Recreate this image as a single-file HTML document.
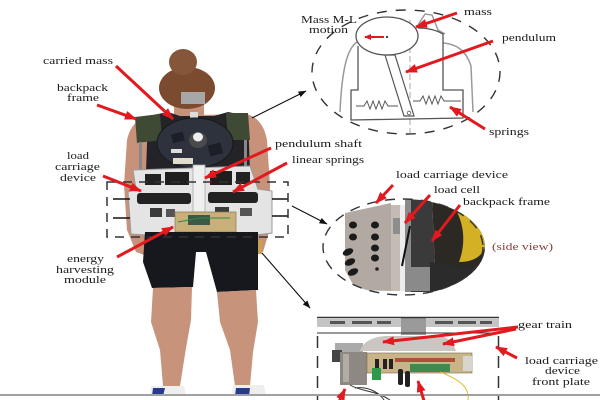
<!DOCTYPE html>
<html><head><meta charset="utf-8"><style>
html,body{margin:0;padding:0;background:#fff;}
svg{display:block;}
text{font-family:"Liberation Serif",serif;font-size:11px;fill:#1a1a1a;}
</style></head><body>
<svg width="600" height="400" viewBox="0 0 600 400" xmlns="http://www.w3.org/2000/svg">
<defs>
<marker id="rh" markerUnits="userSpaceOnUse" markerWidth="13" markerHeight="10" refX="11" refY="4.5" orient="auto"><path d="M0,0 L12,4.5 L0,9 z" fill="#e2191e"/></marker>
<marker id="bh" markerUnits="userSpaceOnUse" markerWidth="9" markerHeight="7" refX="7.5" refY="3" orient="auto"><path d="M0,0 L8,3 L0,6 z" fill="#111"/></marker>
<clipPath id="c2"><ellipse cx="403" cy="247" rx="82" ry="48"/></clipPath>
<clipPath id="c3"><rect x="317" y="317" width="182" height="83"/></clipPath>
</defs>

<!-- ===== PERSON ===== -->
<path d="M150,116 C138,118 130,126 127,140 L124,185 L127,230 L136,252 L147,256 L150,240 L252,240 L256,254 L263,252 L269,232 L270,185 L267,140 C264,124 256,116 246,114 Z" fill="#c8917a"/>
<rect x="174" y="96" width="30" height="22" fill="#c8917a"/>
<ellipse cx="187" cy="88" rx="28" ry="21" fill="#7b4b2f"/>
<ellipse cx="183" cy="62" rx="14" ry="13" fill="#85563a"/>
<rect x="181" y="92" width="24" height="12" fill="#a7a7a7"/>
<path d="M148,116 L168,112 L180,116 L214,116 L228,112 L248,116 L250,172 L146,172 Z" fill="#242428"/>
<rect x="190" y="112" width="8" height="6" fill="#ddd"/>
<path d="M135,117 L160,114 L162,140 L137,143 Z" fill="#3f4a35"/>
<path d="M226,113 L248,113 L250,140 L228,140 Z" fill="#3f4a35"/>
<rect x="139" y="142" width="3" height="28" fill="#888"/>
<rect x="244" y="140" width="3" height="28" fill="#888"/>
<ellipse cx="195" cy="143" rx="38" ry="25" fill="#2d323d" stroke="#16181c" stroke-width="1"/>
<ellipse cx="198" cy="140" rx="9" ry="8" fill="#4a4a4a"/>
<ellipse cx="198" cy="137" rx="5" ry="4.5" fill="#eee"/>
<rect x="172" y="133" width="12" height="9" fill="#1c1f26" transform="rotate(-15 178 138)"/>
<rect x="209" y="144" width="13" height="11" fill="#1c1f26" transform="rotate(-15 215 150)"/>
<rect x="171" y="149" width="11" height="4" fill="#ddd"/>
<rect x="173" y="158" width="20" height="6" fill="#e2dccd"/>
<path d="M133,170 L250,166 L258,189 L272,191 L272,233 L240,237 L175,237 L131,234 L128,192 L136,189 Z" fill="#e4e4e4" stroke="#9a9a9a" stroke-width="1"/>
<rect x="145" y="174" width="16" height="11" fill="#222"/>
<rect x="165" y="172" width="24" height="13" fill="#1e1e1e"/>
<rect x="210" y="171" width="22" height="14" fill="#1e1e1e"/>
<rect x="236" y="172" width="14" height="12" fill="#222"/>
<rect x="137" y="193" width="54" height="11" rx="3" fill="#222"/>
<rect x="208" y="192" width="50" height="11" rx="3" fill="#222"/>
<rect x="150" y="208" width="12" height="9" fill="#3a3a3a"/>
<rect x="166" y="209" width="9" height="8" fill="#555"/>
<rect x="215" y="207" width="14" height="9" fill="#3a3a3a"/>
<rect x="240" y="208" width="12" height="8" fill="#555"/>
<rect x="193" y="165" width="12" height="47" fill="#f0f0f0" stroke="#aaa" stroke-width="0.8"/>
<line x1="113" y1="199" x2="130" y2="199" stroke="#111" stroke-width="1.5"/>
<line x1="113" y1="218" x2="130" y2="218" stroke="#111" stroke-width="1.5"/>
<line x1="272" y1="199" x2="288" y2="199" stroke="#111" stroke-width="1.5"/>
<line x1="272" y1="216" x2="288" y2="216" stroke="#111" stroke-width="1.5"/>
<rect x="175" y="212" width="61" height="20" fill="#c7b07a" stroke="#8a7a50" stroke-width="0.7"/>
<rect x="188" y="215" width="22" height="10" fill="#3b5a45"/>
<path d="M178,222 L200,218 L230,218" stroke="#2f8a45" stroke-width="1" fill="none"/>
<ellipse cx="186" cy="241" rx="7" ry="8" fill="none" stroke="#c9b090" stroke-width="1.3"/>
<rect x="253" y="240" width="9" height="14" fill="#c8a050"/>
<path d="M145,232 L258,232 L258,290 L217,292 L206,252 L196,252 L193,287 L152,288 L143,262 Z" fill="#17181d"/>
<path d="M153,288 L192,287 L191,320 L186,348 L180,386 L163,386 L160,350 L151,322 Z" fill="#c8937b"/>
<path d="M217,292 L256,290 L258,322 L253,352 L250,386 L235,386 L230,350 L220,322 Z" fill="#c8937b"/>
<path d="M151,386 L184,386 L186,396 L150,396 Z" fill="#eee"/>
<path d="M153,388 L165,388 L163,396 L152,396 Z" fill="#2a3a8a"/>
<path d="M233,385 L264,385 L266,396 L232,396 Z" fill="#eee"/>
<path d="M236,388 L250,388 L249,396 L235,396 Z" fill="#2a3a8a"/>

<rect x="107" y="182" width="181" height="55" fill="none" stroke="#333" stroke-width="1.5" stroke-dasharray="9 7"/>

<!-- ===== TOP-RIGHT SKETCH CIRCLE ===== -->
<ellipse cx="406" cy="72" rx="94" ry="62" fill="none" stroke="#333" stroke-width="1.4" stroke-dasharray="10 9"/>
<path d="M357,42 C348,48 342,66 340,112" stroke="#9a9a9a" stroke-width="1.5" fill="none"/>
<path d="M418,25 L425,14 L432,15 L438,30 L445,34 M443,43 C456,44 466,50 471,66 L473,112" stroke="#9a9a9a" stroke-width="1.5" fill="none"/>
<line x1="410" y1="20" x2="410" y2="133" stroke="#bbb" stroke-width="1.3" stroke-dasharray="6 3"/>
<path d="M358,46 L358,90 L351,90 L351,120 L463,118 L463,90 L443,90 L443,34 C436,30 428,28 418,28" stroke="#555" stroke-width="1.3" fill="none"/>
<path d="M356,106 L364,106 L367,101 L370,109 L373,101 L376,109 L379,101 L382,109 L385,101 L388,106 L398,106" stroke="#555" stroke-width="1" fill="none"/>
<path d="M413,101 L420,101 L423,96 L426,104 L429,96 L432,104 L435,96 L438,104 L441,96 L444,101 L461,101" stroke="#555" stroke-width="1" fill="none"/>
<polygon points="385,55 395,55 414,116 404,116" fill="#fff" stroke="#555" stroke-width="1.2"/>
<circle cx="409" cy="113" r="1.8" fill="none" stroke="#555" stroke-width="0.8"/>
<ellipse cx="387" cy="36" rx="31" ry="19" fill="#fff" stroke="#555" stroke-width="1.3"/>
<circle cx="387" cy="37" r="1.2" fill="#444"/>
<line x1="384" y1="37" x2="365" y2="37" stroke="#e2191e" stroke-width="2"/>
<path d="M364,37 L371,34 L371,40 Z" fill="#e2191e"/>

<!-- ===== SIDE VIEW PHOTO ===== -->
<g clip-path="url(#c2)">
<path d="M345,213 L391,203 L392,291 L356,290 L345,270 Z" fill="#b2a9a3"/>
<rect x="391" y="205" width="9" height="86" fill="#c2bcb4"/>
<rect x="393" y="218" width="8" height="16" fill="#8d8d8d"/>
<rect x="400" y="205" width="5" height="86" fill="#ececec"/>
<path d="M405,200 L432,198 L436,292 L408,292 Z" fill="#3a3a3a"/>
<rect x="405" y="200" width="6" height="92" fill="#8a8a8a"/>
<path d="M432,198 L490,198 L490,295 L436,292 Z" fill="#2c2824"/>
<path d="M457,212 C474,210 486,224 486,239 C486,254 476,262 459,262 C465,246 465,228 457,212 Z" fill="#d3b024"/>
<rect x="410" y="267" width="20" height="24" fill="#8a8a8a"/>
<path d="M430,262 L490,270 L490,295 L430,295 Z" fill="#2b2b2b"/>
<line x1="410" y1="226" x2="402" y2="266" stroke="#111" stroke-width="2"/>
<ellipse cx="353" cy="225" rx="4" ry="3.5" fill="#1b1b1b"/>
<ellipse cx="375" cy="225" rx="4" ry="3.5" fill="#1b1b1b"/>
<ellipse cx="353" cy="237" rx="4" ry="3.5" fill="#1b1b1b"/>
<ellipse cx="375" cy="237" rx="4" ry="3.5" fill="#1b1b1b"/>
<ellipse cx="348" cy="252" rx="5.5" ry="3.3" fill="#1b1b1b" transform="rotate(-25 348 252)"/>
<ellipse cx="375" cy="248" rx="4" ry="3.5" fill="#1b1b1b"/>
<ellipse cx="350" cy="262" rx="5.5" ry="3.3" fill="#1b1b1b" transform="rotate(-25 350 262)"/>
<ellipse cx="375" cy="258" rx="4" ry="3.5" fill="#1b1b1b"/>
<ellipse cx="353" cy="272" rx="5.5" ry="3.3" fill="#1b1b1b" transform="rotate(-25 353 272)"/>
<circle cx="377" cy="269" r="1.8" fill="#222"/>
</g>
<ellipse cx="403" cy="247" rx="80" ry="48" fill="none" stroke="#333" stroke-width="1.4" stroke-dasharray="10 8"/>

<!-- ===== BOTTOM PHOTO BOX ===== -->
<g clip-path="url(#c3)">
<rect x="317" y="319" width="182" height="8" fill="#c4c4c4"/>
<rect x="330" y="321" width="15" height="3" fill="#555"/>
<rect x="352" y="321" width="20" height="3" fill="#555"/>
<rect x="377" y="321" width="14" height="3" fill="#555"/>
<rect x="435" y="321" width="18" height="3" fill="#555"/>
<rect x="458" y="321" width="18" height="3" fill="#555"/>
<rect x="480" y="321" width="12" height="3" fill="#555"/>
<rect x="401" y="318" width="25" height="17" fill="#9a9a9a"/>
<rect x="335" y="343" width="28" height="9" fill="#aaa"/>
<path d="M360,351 Q364,338 385,336 L440,336 Q452,338 456,351 Z" fill="#cac6c2"/>
<rect x="332" y="350" width="10" height="12" fill="#444"/>
<rect x="340" y="352" width="27" height="33" fill="#8d8882"/>
<rect x="343" y="354" width="6" height="28" fill="#b0aca6"/>
<rect x="367" y="353" width="105" height="20" fill="#c8b488" stroke="#7a6a4a" stroke-width="0.6"/>
<rect x="395" y="358" width="60" height="4" fill="#b0503a"/>
<rect x="410" y="364" width="40" height="8" fill="#3f8a4f"/>
<rect x="375" y="359" width="4" height="10" fill="#222"/>
<rect x="383" y="359" width="4" height="10" fill="#222"/>
<rect x="389" y="359" width="4" height="10" fill="#222"/>
<rect x="372" y="368" width="9" height="12" fill="#2d9a4a"/>
<rect x="398" y="369" width="5" height="16" rx="2" fill="#222"/>
<rect x="405" y="371" width="5" height="16" rx="2" fill="#222"/>
<rect x="463" y="356" width="9" height="15" fill="#d8d4ce"/>
<path d="M440,372 C455,378 470,385 468,400" stroke="#d8c030" stroke-width="1" fill="none"/>
<path d="M350,385 C362,392 375,390 390,400 M355,388 C370,386 380,394 384,400" stroke="#333" stroke-width="1" fill="none"/>
</g>
<line x1="317" y1="317.5" x2="499" y2="317.5" stroke="#333" stroke-width="1.5"/>
<line x1="317" y1="333" x2="499" y2="333" stroke="#333" stroke-width="1"/>
<line x1="317.5" y1="336" x2="317.5" y2="400" stroke="#333" stroke-width="1.5" stroke-dasharray="12 8"/>
<line x1="498.5" y1="336" x2="498.5" y2="400" stroke="#333" stroke-width="1.5" stroke-dasharray="12 8"/>

<rect x="0" y="394" width="600" height="2" fill="#a0a0a0"/>

<!-- ===== BLACK ARROWS ===== -->
<line x1="252" y1="118" x2="306" y2="91" stroke="#111" stroke-width="1.1" marker-end="url(#bh)"/>
<line x1="292" y1="206" x2="327" y2="224" stroke="#111" stroke-width="1.1" marker-end="url(#bh)"/>
<line x1="262" y1="253" x2="310" y2="308" stroke="#111" stroke-width="1.1" marker-end="url(#bh)"/>

<!-- ===== RED ARROWS ===== -->
<g stroke="#e2191e" stroke-width="3" fill="none" marker-end="url(#rh)">
<line x1="116" y1="66" x2="173" y2="119"/>
<line x1="97" y1="105" x2="136" y2="119"/>
<line x1="103" y1="176" x2="141" y2="191"/>
<line x1="271" y1="148" x2="205" y2="178"/>
<line x1="287" y1="163" x2="233" y2="192"/>
<line x1="117" y1="257" x2="173" y2="227"/>
<line x1="457" y1="13" x2="416" y2="27"/>
<line x1="493" y1="41" x2="406" y2="72"/>
<line x1="485" y1="129" x2="450" y2="107"/>
<line x1="393" y1="185" x2="376" y2="203"/>
<line x1="430" y1="195" x2="405" y2="223"/>
<line x1="460" y1="205" x2="432" y2="241"/>
<line x1="518" y1="327" x2="383" y2="342"/>
<line x1="516" y1="329" x2="443" y2="344"/>
<line x1="517" y1="358" x2="496" y2="347"/>
<line x1="338" y1="404" x2="345" y2="389"/>
<line x1="425" y1="404" x2="418" y2="381"/>
</g>

<!-- ===== LABELS ===== -->
<text x="43" y="64" textLength="70" lengthAdjust="spacingAndGlyphs">carried mass</text>
<text x="57" y="91" textLength="51" lengthAdjust="spacingAndGlyphs">backpack</text>
<text x="67" y="101" textLength="32" lengthAdjust="spacingAndGlyphs">frame</text>
<text x="67" y="159" textLength="22" lengthAdjust="spacingAndGlyphs">load</text>
<text x="55" y="170" textLength="45" lengthAdjust="spacingAndGlyphs">carriage</text>
<text x="60" y="181" textLength="36" lengthAdjust="spacingAndGlyphs">device</text>
<text x="67" y="262" textLength="37" lengthAdjust="spacingAndGlyphs">energy</text>
<text x="56" y="273" textLength="58" lengthAdjust="spacingAndGlyphs">harvesting</text>
<text x="64" y="283" textLength="42" lengthAdjust="spacingAndGlyphs">module</text>
<text x="275" y="147" textLength="87" lengthAdjust="spacingAndGlyphs">pendulum shaft</text>
<text x="292" y="163" textLength="72" lengthAdjust="spacingAndGlyphs">linear springs</text>
<text x="301" y="23" textLength="56" lengthAdjust="spacingAndGlyphs">Mass M-L</text>
<text x="309" y="33" textLength="39" lengthAdjust="spacingAndGlyphs">motion</text>
<text x="464" y="15" textLength="28" lengthAdjust="spacingAndGlyphs">mass</text>
<text x="502" y="41" textLength="54" lengthAdjust="spacingAndGlyphs">pendulum</text>
<text x="489" y="135" textLength="40" lengthAdjust="spacingAndGlyphs">springs</text>
<text x="396" y="178" textLength="112" lengthAdjust="spacingAndGlyphs">load carriage device</text>
<text x="434" y="193" textLength="46" lengthAdjust="spacingAndGlyphs">load cell</text>
<text x="463" y="205" textLength="87" lengthAdjust="spacingAndGlyphs">backpack frame</text>
<text x="492" y="250" textLength="61" lengthAdjust="spacingAndGlyphs" style="fill:#8b3a3a">(side view)</text>
<text x="518" y="328" textLength="54" lengthAdjust="spacingAndGlyphs">gear train</text>
<text x="525" y="364" textLength="73" lengthAdjust="spacingAndGlyphs">load carriage</text>
<text x="545" y="374" textLength="35" lengthAdjust="spacingAndGlyphs">device</text>
<text x="532" y="385" textLength="58" lengthAdjust="spacingAndGlyphs">front plate</text>
</svg>
</body></html>
